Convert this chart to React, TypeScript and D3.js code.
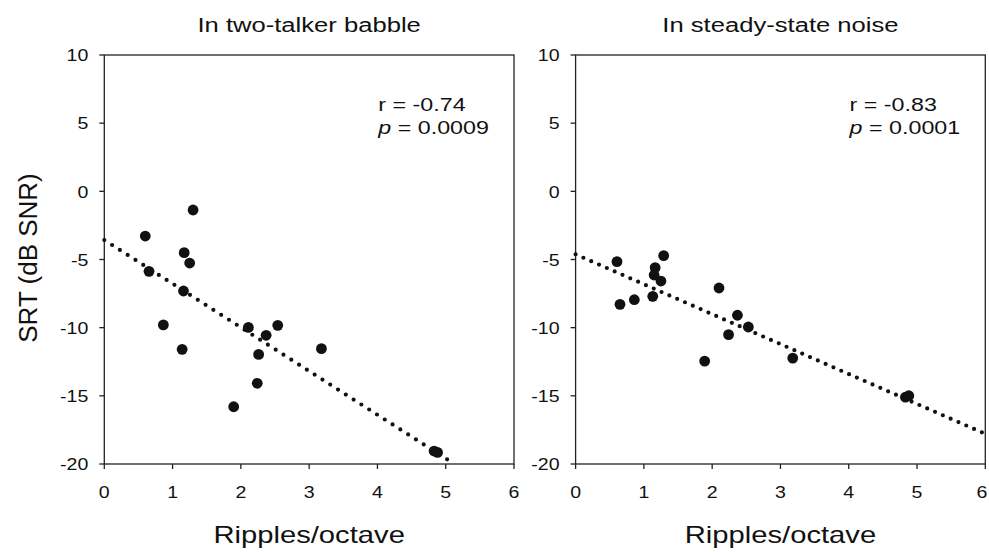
import React from "react";
import * as d3 from "d3";

// ---- data ----
const xTicks = [0, 1, 2, 3, 4, 5, 6];
const yTicks = [-20, -15, -10, -5, 0, 5, 10];

const babbleX = [0.6, 0.655, 0.865, 1.14, 1.16, 1.17, 1.25, 1.3, 1.895, 2.11, 2.24, 2.26, 2.37, 2.54, 3.18, 4.83, 4.88];
const babbleY = [-3.28, -5.87, -9.8, -11.59, -7.31, -4.5, -5.26, -1.37, -15.8, -9.98, -14.08, -11.96, -10.56, -9.83, -11.54, -19.05, -19.15];

const steadyX = [0.606, 0.65, 0.86, 1.13, 1.15, 1.165, 1.25, 1.29, 1.89, 2.1, 2.24, 2.37, 2.53, 3.18, 4.83, 4.88];
const steadyY = [-5.16, -8.29, -7.95, -7.7, -6.14, -5.6, -6.58, -4.72, -12.45, -7.09, -10.51, -9.09, -9.95, -12.23, -15.1, -14.99];

const fitBabbleX = [0, 5.02];
const fitBabbleY = [-3.57, -19.66];
const fitSteadyX = [0, 5.95];
const fitSteadyY = [-4.62, -17.68];

const titles = ["In two-talker babble", "In steady-state noise"];
const rValues = ["r = -0.74", "r = -0.83"];
const pValues = ["0.0009", "0.0001"];
const xLabel = "Ripples/octave";
const yLabel = "SRT (dB SNR)";

const FONT = "'Liberation Sans', Arial, Helvetica, sans-serif";
const INK = "#111";

function SText({ x, y, sx = 1, size, anchor = "start", children, rotate = 0, style = {} }: any) {
  const tr = rotate
    ? `translate(${x},${y}) rotate(${rotate}) scale(${sx},1)`
    : `translate(${x},${y}) scale(${sx},1)`;
  return (
    <text transform={tr} textAnchor={anchor} fontSize={size} fontFamily={FONT} fill={INK} style={style}>
      {children}
    </text>
  );
}

function Panel({ left, xs, ys, lx, ly, title, r, p }: any) {
  const width = 409.7;
  const top = 55;
  const bottom = 464;
  const x = d3.scaleLinear().domain([0, 6]).range([left, left + width]);
  const y = d3.scaleLinear().domain([-20, 10]).range([bottom, top]);
  const line = d3.line<number>().x((_, i) => x(lx[i])).y((_, i) => y(ly[i]));
  const pts = lx.map((v: number) => v);
  const dxPx = x(lx[1]) - x(lx[0]);
  const dyPx = y(ly[1]) - y(ly[0]);
  const len = Math.hypot(dxPx, dyPx);
  const n = Math.round(dxPx / 7.8);
  const gap = len / n;
  const cx = left + width / 2;
  return (
    <g>
      <SText x={cx} y={32} size={21} sx={1.22} anchor="middle">{title}</SText>
      <rect x={left} y={top} width={width} height={bottom - top} fill="none" stroke="#222" strokeWidth={1.3} />
      {yTicks.map((t) => (
        <g key={"y" + t}>
          <line x1={left - 5} x2={left} y1={y(t)} y2={y(t)} stroke="#222" strokeWidth={1.3} />
          <SText x={left - 16} y={y(t) + 6.2} size={17} sx={1.15} anchor="end">{String(t)}</SText>
        </g>
      ))}
      {xTicks.map((t) => (
        <g key={"x" + t}>
          <line x1={x(t)} x2={x(t)} y1={bottom} y2={bottom + 5} stroke="#222" strokeWidth={1.3} />
          <SText x={Math.min(x(t), 982)} y={498} size={17} sx={1.15} anchor="middle">{String(t)}</SText>
        </g>
      ))}
      <path
        d={line(pts) || ""}
        fill="none"
        stroke={INK}
        strokeWidth={4.2}
        strokeLinecap="round"
        strokeDasharray={`0 ${gap}`}
      />
      {xs.map((v: number, i: number) => (
        <circle key={i} cx={x(v)} cy={y(ys[i])} r={5.4} fill={INK} />
      ))}
      <SText x={left + 274} y={110.5} size={17.5} sx={1.33}>{r}</SText>
      <SText x={left + 274} y={134} size={17.5} sx={1.33}>
        <tspan fontStyle="italic">p</tspan>
        <tspan>{" = " + p}</tspan>
      </SText>
      <SText x={cx} y={543} size={23} sx={1.27} anchor="middle">{xLabel}</SText>
    </g>
  );
}

export default function App() {
  return (
    <svg
      width={989}
      height={552}
      style={{ position: "absolute", left: 0, top: 0, background: "#fff" }}
    >
      <rect x={0} y={0} width={989} height={552} fill="#fff" />
      <SText x={36.5} y={258} size={25} sx={1.04} anchor="middle" rotate={-90}>{yLabel}</SText>
      <Panel left={104.3} xs={babbleX} ys={babbleY} lx={fitBabbleX} ly={fitBabbleY} title={titles[0]} r={rValues[0]} p={pValues[0]} />
      <Panel left={575.6} xs={steadyX} ys={steadyY} lx={fitSteadyX} ly={fitSteadyY} title={titles[1]} r={rValues[1]} p={pValues[1]} />
    </svg>
  );
}
